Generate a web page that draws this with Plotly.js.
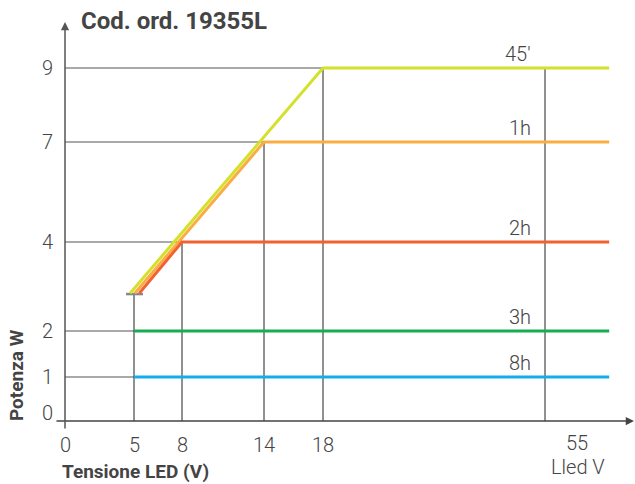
<!DOCTYPE html>
<html>
<head>
<meta charset="utf-8">
<script src="https://cdn.plot.ly/plotly-3.0.1.min.js"></script>
<style>html,body{margin:0;padding:0;background:#fff}#chart{width:635px;height:484px}</style>
</head>
<body>
<div id="chart"></div>
<script>
// ---- data ----
const xTicks = [0, 5, 8, 14, 18, 55];
const yTicks = [0, 1, 2, 4, 7, 9];
const xTickText = ['0', '5', '8', '14', '18', '55'];
const yTickText = ['0', '1', '2', '4', '7', '9'];
const seriesNames = ['45′', '1h', '2h', '3h', '8h'];
const seriesColors = ['#d4e12a', '#fbad43', '#f26130', '#16ad53', '#13aeea'];
const x45 = [4.72, 18, 65.7];  const y45 = [2.85, 9, 9];
const x1h = [5.05, 14, 65.7];  const y1h = [2.85, 7, 7];
const x2h = [5.33, 8, 65.7];   const y2h = [2.85, 4, 4];
const x3h = [5, 65.7];         const y3h = [2, 2];
const x8h = [5, 65.7];         const y8h = [1, 1];
const startW = 2.83;                 // lower limit marker (W)
const capX = [4.42, 5.56];
const vGuideX = [5, 8, 14, 18, 55];  // vertical guide lines (V)
const vGuideTop = [2.83, 4, 7, 9, 9];
const hGuideY = [9, 7, 4, 2, 1];     // horizontal guide lines (W)
const hGuideEnd = [18, 14, 8, 5, 5];

// ---- non-linear display scale of the original drawing ----
const xScalePos = [0, 69, 117, 199, 258, 480];
const yScalePos = [0, 44, 90, 179, 279, 353];
function mapScale(v, vals, pos) {
  let i = 0;
  while (i < vals.length - 2 && v > vals[i + 1]) i++;
  const t = (v - vals[i]) / (vals[i + 1] - vals[i]);
  return pos[i] + t * (pos[i + 1] - pos[i]);
}
const mx = v => mapScale(v, xTicks, xScalePos);
const my = v => mapScale(v, yTicks, yScalePos);

const traces = [];
// guides
hGuideY.forEach((y, i) => traces.push({
  x: [mx(0), mx(hGuideEnd[i])], y: [my(y), my(y)], mode: 'lines',
  line: {color: '#555', width: 1.2}, hoverinfo: 'skip', showlegend: false
}));
vGuideX.forEach((x, i) => traces.push({
  x: [mx(x), mx(x)], y: [my(0), my(vGuideTop[i])], mode: 'lines',
  line: {color: '#222', width: 1}, hoverinfo: 'skip', showlegend: false
}));
traces.push({
  x: capX.map(mx), y: [my(startW), my(startW)], mode: 'lines',
  line: {color: '#888', width: 2.5}, hoverinfo: 'skip', showlegend: false
});
const sx = [x45, x1h, x2h, x3h, x8h];
const sy = [y45, y1h, y2h, y3h, y8h];
seriesNames.forEach((n, i) => traces.push({
  x: sx[i].map(mx), y: sy[i].map(my), mode: 'lines', name: n,
  line: {color: seriesColors[i], width: 3}, showlegend: false
}));

const tickFont = {family: 'Roboto', size: 20, weight: 300, color: '#444'};
const annotations = [];
xTicks.forEach((v, i) => {
  const last = i === xTicks.length - 1;
  annotations.push({
    xref: 'x', yref: 'paper', x: mx(v), y: 0, yshift: last ? -13 : -15, xshift: last ? 32 : 0,
    text: xTickText[i], showarrow: false, xanchor: 'center', yanchor: 'middle', font: tickFont,
    borderpad: 0
  });
});
annotations.push({
  xref: 'x', yref: 'paper', x: mx(55), y: 0, yshift: -37, xshift: 33,
  text: 'Lled V', showarrow: false, xanchor: 'center', yanchor: 'middle', font: tickFont,
  borderpad: 0
});
yTicks.forEach((v, i) => annotations.push({
  xref: 'paper', yref: 'y', x: 0, xshift: -8, y: my(v), yshift: v === 0 ? 8 : 0,
  text: yTickText[i], showarrow: false, xanchor: 'center', yanchor: 'middle', font: tickFont
}));
seriesNames.forEach((n, i) => {
  const yv = sy[i][sy[i].length - 1];
  annotations.push({
    xref: 'x', yref: 'y', x: mx(55), xshift: -12, y: my(yv), yshift: 0,
    text: n, showarrow: false, xanchor: 'right', yanchor: 'bottom', font: tickFont
  });
});
// axis arrows
annotations.push({
  xref: 'x', yref: 'y', axref: 'x', ayref: 'y', x: 569, y: 0, ax: -10, ay: 0,
  text: '', showarrow: true, arrowhead: 2, arrowsize: 1.1, arrowwidth: 1.5, arrowcolor: '#444', standoff: 0
});
annotations.push({
  xref: 'x', yref: 'y', axref: 'x', ayref: 'y', x: 0, y: 399, ax: 0, ay: -9,
  text: '', showarrow: true, arrowhead: 2, arrowsize: 1.1, arrowwidth: 1.5, arrowcolor: '#555', standoff: 0
});
// axis titles
annotations.push({
  xref: 'paper', yref: 'paper', x: -0.0655, y: 0.1335, textangle: -90,
  text: 'Potenza W', showarrow: false, xanchor: 'center', yanchor: 'middle',
  font: {family: 'Roboto', size: 19, weight: 700, color: '#444'}
});
annotations.push({
  xref: 'paper', yref: 'paper', x: 0.0103, y: -0.1, 
  text: 'Tensione LED (V)', showarrow: false, xanchor: 'left', yanchor: 'middle',
  font: {family: 'Roboto', size: 19, weight: 700, color: '#444'}, borderpad: 0
});

const layout = {
  width: 635, height: 484,
  margin: {l: 55, r: 0, t: 18, b: 54},
  paper_bgcolor: '#fff', plot_bgcolor: '#fff',
  title: {
    text: 'Cod. ord. 19355L', xref: 'container', yref: 'container',
    x: 81 / 635, xanchor: 'left', y: 1 - 21 / 484, yanchor: 'middle',
    font: {family: 'Roboto', size: 24, weight: 700, color: '#444'}
  },
  xaxis: {range: [-10, 570], visible: false, fixedrange: true},
  yaxis: {range: [-9, 403], visible: false, fixedrange: true},
  annotations: annotations,
  showlegend: false
};
Plotly.newPlot('chart', traces, layout, {displayModeBar: false, staticPlot: true});
</script>
</body>
</html>
